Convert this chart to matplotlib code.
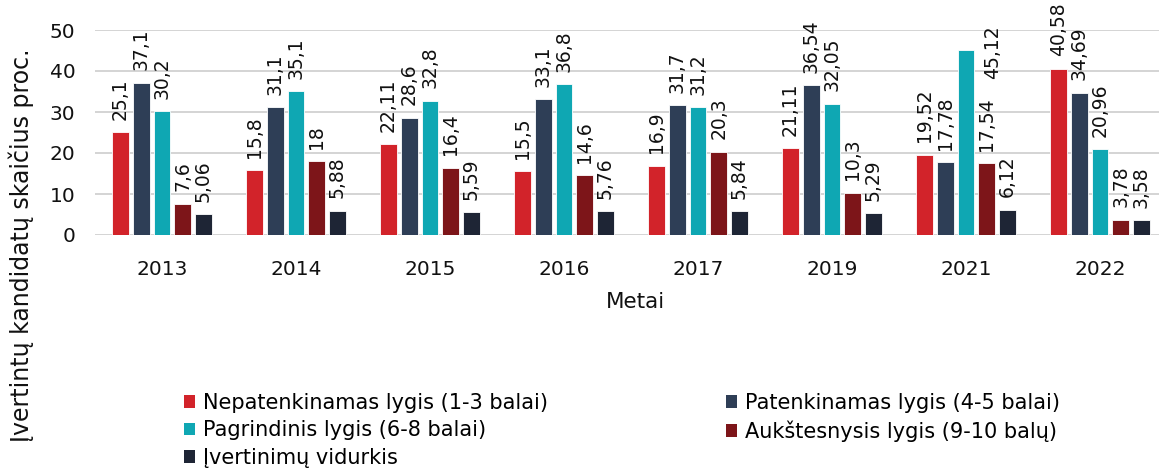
import numpy as np
import matplotlib.pyplot as plt
from matplotlib.patches import Patch

years = ['2013', '2014', '2015', '2016', '2017', '2019', '2021', '2022']
series_names = [
    'Nepatenkinamas lygis (1-3 balai)',
    'Patenkinamas lygis (4-5 balai)',
    'Pagrindinis lygis (6-8 balai)',
    'Aukštesnysis lygis (9-10 balų)',
    'Įvertinimų vidurkis',
]
nepatenkinamas = [25.1, 15.8, 22.11, 15.5, 16.9, 21.11, 19.52, 40.58]
patenkinamas = [37.1, 31.1, 28.6, 33.1, 31.7, 36.54, 17.78, 34.69]
pagrindinis = [30.2, 35.1, 32.8, 36.8, 31.2, 32.05, 45.12, 20.96]
aukstesnysis = [7.6, 18, 16.4, 14.6, 20.3, 10.3, 17.54, 3.78]
vidurkis = [5.06, 5.88, 5.59, 5.76, 5.84, 5.29, 6.12, 3.58]

colors = ['#D2232A', '#2E3E56', '#0FA7B3', '#7D1519', '#1E2535']

def fmt(v):
    s = f'{v:.2f}'.rstrip('0').rstrip('.')
    return s.replace('.', ',')

fig = plt.figure(figsize=(11.59, 4.72), dpi=100)
fig.patch.set_facecolor('white')
ax = fig.add_axes([95 / 1159, 237 / 472, 1072 / 1159, 205 / 472])

x = np.arange(len(years))
slot = 0.155
width = 0.125
all_series = [nepatenkinamas, patenkinamas, pagrindinis, aukstesnysis, vidurkis]
for i, (vals, c) in enumerate(zip(all_series, colors)):
    pos = x + (i - 2) * slot
    bars = ax.bar(pos, vals, width, color=c, edgecolor='white', linewidth=0.6, zorder=3)
    for b, v in zip(bars, vals):
        cx = b.get_x() + b.get_width() / 2
        if v > 42:
            # no room above the bar: label goes beside it, as in the original
            ax.annotate(fmt(v), (cx, v), xytext=(19, 18), textcoords='offset points',
                        rotation=90, ha='center', va='top', fontsize=13.5, color='#111111')
        else:
            ax.annotate(fmt(v), (cx, v), xytext=(0, 9), textcoords='offset points',
                        rotation=90, ha='center', va='bottom', fontsize=13.5, color='#111111')

ax.set_xlim(-0.5, len(years) - 0.5)
ax.set_ylim(0, 50)
ax.set_yticks(range(0, 51, 10))
ax.set_xticks(x)
ax.set_xticklabels(years)
ax.grid(axis='y', color='#D4D4D4', linewidth=1.4, zorder=0)
for s in ax.spines.values():
    s.set_visible(False)
ax.tick_params(axis='both', length=0, labelsize=14.5, colors='#111111')
ax.tick_params(axis='x', pad=18)
ax.tick_params(axis='y', pad=14)

fig.text(635 / 1159, 1 - 302 / 472, 'Metai', ha='center', va='center', fontsize=15.5, color='#111111')
fig.text(21 / 1159, 1 - 245 / 472, 'Įvertintų kandidatų skaičius proc.', rotation=90,
         ha='center', va='center', fontsize=17, color='#111111')

handles = [Patch(facecolor=c, edgecolor='none') for c in colors]
order = [0, 2, 4, 1, 3]
leg = fig.legend([handles[i] for i in order], [series_names[i] for i in order],
                 ncol=2, loc='upper left', bbox_to_anchor=(184 / 1159, 1 - 393 / 472),
                 frameon=False, fontsize=15, handlelength=0.55, handleheight=0.55,
                 handletextpad=0.35, columnspacing=8.55, labelspacing=0.36,
                 borderpad=0, borderaxespad=0)

fig.savefig('out.png', dpi=100, facecolor='white')
